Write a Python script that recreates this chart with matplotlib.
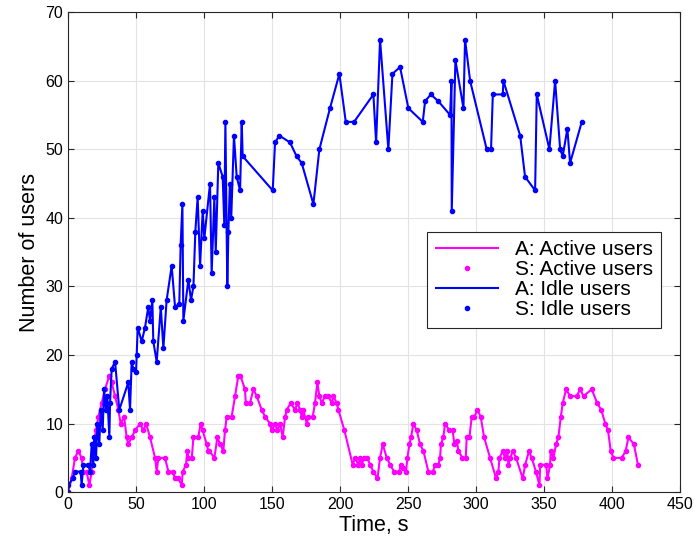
import matplotlib
matplotlib.use("Agg")
import matplotlib.pyplot as plt
import numpy as np

ACTIVE_COLOR = '#FF00FF'
IDLE_COLOR = '#0000FF'

# Active users (t [s], count)
active_time = [0, 2.7, 5.1, 7.6, 10, 11.3, 13.7, 15.7, 17.4, 18.6, 20.6, 22.3, 24.8, 27.2, 30.4, 32.1,
               34.6, 37, 38.7, 41.2, 43.1, 44.3, 46.8, 49.3, 52.9, 55.4, 57.4, 60.3, 64, 65.2, 66.4,
               71.3, 73.8, 77, 78.7, 81.1, 83.6, 84.3, 86.8, 87.7, 88.5, 91, 92.2, 95.8, 97.5, 99,
               101.9, 103.2, 104, 107.6, 109.8, 111.8, 114.2, 115.4, 116.7, 120.3, 122.8, 125.2,
               126.7, 130.1, 130.7, 133.8, 136.3, 138.7, 142.4, 144.9, 148.5, 149.8, 152.2, 153.9,
               155.9, 157.8, 159.6, 160.8, 163.7, 166.9, 168.6, 170.6, 171.8, 173, 175.5, 176.7,
               179.9, 181.6, 183.3, 184.8, 186.5, 189, 191.4, 193.9, 195.1, 197.5, 198.8, 203.2,
               209.3, 211, 213.5, 214.7, 215.9, 217.6, 220, 222.1, 224.5, 227.5, 229.4, 231.4,
               234.3, 236.8, 239.7, 243.6, 244.6, 246.6, 248.5, 249.5, 251, 252.2, 253.9, 256.4,
               258.8, 261.3, 264.9, 268.2, 269.9, 272.3, 273.5, 274.2, 275.9, 277.2, 280.4, 282.8,
               284, 285.8, 287, 290, 292.4, 293.1, 295.1, 296.8, 298.8, 301, 303.4, 305.9, 310.3,
               314.7, 316.4, 317.2, 319.6, 321.3, 323, 323.8, 325.1, 327, 329.4, 334.3, 336.1,
               338.9, 340.9, 344, 346.6, 347.1, 351.5, 352.5, 354.4, 354.9, 356.9, 358.8, 360.5,
               362.3, 363.7, 366.2, 369.1, 374, 376.5, 379, 385, 389, 392, 395, 397, 399, 401,
               407, 410, 412, 416, 419]
active_users = [0, 2, 5, 6, 5, 3, 3, 1, 3, 7, 9, 11, 13, 15, 17, 16,
                14, 12, 10, 11, 8, 7, 8, 9, 10, 9, 10, 8, 5, 3, 5,
                5, 3, 3, 2, 2, 1, 3, 4, 6, 5, 5, 8, 8, 10, 9,
                7, 6, 6, 5, 8, 7, 6, 9, 11, 11, 14, 17,
                17, 15, 13, 13, 15, 14, 12, 11, 10, 9, 10, 9,
                10, 8, 11, 12, 13, 12, 13, 12, 11, 12, 10, 11,
                11, 13, 16, 14, 13, 14, 14, 13, 14, 13, 12, 9,
                4, 5, 4, 5, 4, 5, 5, 4, 3, 2, 5, 7,
                5, 4, 3, 3, 4, 3.5, 3, 5, 7, 8, 10, 9,
                7, 6, 3, 3, 4, 4, 5, 7, 8, 10, 9, 9,
                7, 7.5, 6, 5, 5, 8, 8, 11, 11, 12, 11, 8, 5,
                2, 3, 5, 6, 5, 6, 4, 5, 6, 5, 2, 4,
                6, 5, 3, 1, 4, 4, 2, 4, 6, 5, 7, 8,
                11, 13, 15, 14, 14, 15, 14, 15, 13, 12, 10, 9, 6, 5,
                5, 6, 8, 7, 4]

# Idle users (t [s], count)
idle_time = [0, 0.2, 3.4, 5.1, 9.3, 10, 11.3, 15, 16.2, 17.4, 18.6, 19.4, 20.6, 21.6, 23, 24, 25.5,
             26.5, 27.9, 28.9, 30.4, 30.9, 32.1, 34.6, 37.7, 44.3, 45.6, 46.8, 48, 50, 50.5, 51.2,
             54.2, 56.6, 59, 60.3, 62, 62.7, 65.2, 68.2, 70.1, 72.5, 76.2, 78.7, 81.8, 82.8, 84.1,
             84.8, 88.5, 90.4, 92.2, 93.6, 95.3, 97.1, 99, 100.2, 104.4, 105.6, 107.6, 108.6,
             110.5, 113.7, 114.9, 115.7, 117.1, 117.9, 119, 120, 122, 124, 126.5, 127.7, 128.4,
             150.5, 152.2, 155.4, 163.2, 168, 171.8, 180.4, 184.8, 192.6, 199.5, 204.2, 210.3,
             224.5, 226.5, 229.4, 235.5, 238.5, 244.1, 250.2, 260.8, 262.5, 266.7, 272.3, 280.9,
             281.9, 282.1, 284.8, 290.7, 291.9, 295.6, 307.8, 311, 312.3, 319.6, 320.1, 332.4,
             336, 343.4, 344.6, 353.9, 358.1, 361.8, 363.7, 367.1, 369.1, 377.7]
idle_users = [0, 1, 2, 3, 3, 1, 4, 4, 3, 7, 4, 8, 5, 10, 7, 12, 9,
              15, 12, 14, 8, 13, 18, 19, 12, 16, 12, 19, 18, 17.5, 20, 24,
              22, 24, 27, 25, 28, 22, 19, 27, 21, 28, 33, 27, 27.5, 36, 42,
              25, 31, 28, 30, 38, 43, 33, 41, 37, 45, 32, 43, 35,
              48, 46, 39, 54, 30, 38, 45, 40, 52, 46, 44, 54, 49,
              44, 51, 52, 51, 49, 48, 42, 50, 56, 61, 54, 54,
              58, 51, 66, 50, 61, 62, 56, 54, 57, 58, 57, 55,
              60, 41, 63, 56, 66, 60, 50, 50, 58, 58, 60, 52,
              46, 44, 58, 50, 60, 50, 49, 53, 48, 54]

plt.rcParams['font.family'] = ['Liberation Sans', 'DejaVu Sans']

fig = plt.figure(figsize=(6.94, 5.53), dpi=100)
ax = fig.add_axes([0.098, 0.110, 0.882, 0.868])

ax.plot(active_time, active_users, color=ACTIVE_COLOR, lw=1.5, label='A: Active users')
ax.plot(active_time, active_users, '.', color=ACTIVE_COLOR, ms=6, label='S: Active users')
ax.plot(idle_time, idle_users, color=IDLE_COLOR, lw=1.5, label='A: Idle users')
ax.plot(idle_time, idle_users, '.', color=IDLE_COLOR, ms=6, label='S: Idle users')

ax.set_xlim(0, 450)
ax.set_ylim(0, 70)
ax.set_xticks(np.arange(0, 451, 50))
ax.set_yticks(np.arange(0, 71, 10))
ax.set_xlabel('Time, s', fontsize=15.5, labelpad=2)
ax.set_ylabel('Number of users', fontsize=15.5, labelpad=4)
ax.tick_params(direction='in', top=True, right=True, labelsize=11.5, length=4, color='#262626')
ax.grid(True, color='#e3e3e3', lw=0.8)
ax.set_axisbelow(True)
for s in ax.spines.values():
    s.set_color('#262626')
    s.set_linewidth(0.8)

leg = ax.legend(loc='upper left', bbox_to_anchor=(0.587, 0.542), fontsize=15, handlelength=3.0,
                borderaxespad=0, fancybox=False, framealpha=1, edgecolor='#262626',
                labelspacing=0.05, borderpad=0.4, handletextpad=0.8)
leg.get_frame().set_linewidth(0.8)

plt.savefig('out.png', dpi=100)
